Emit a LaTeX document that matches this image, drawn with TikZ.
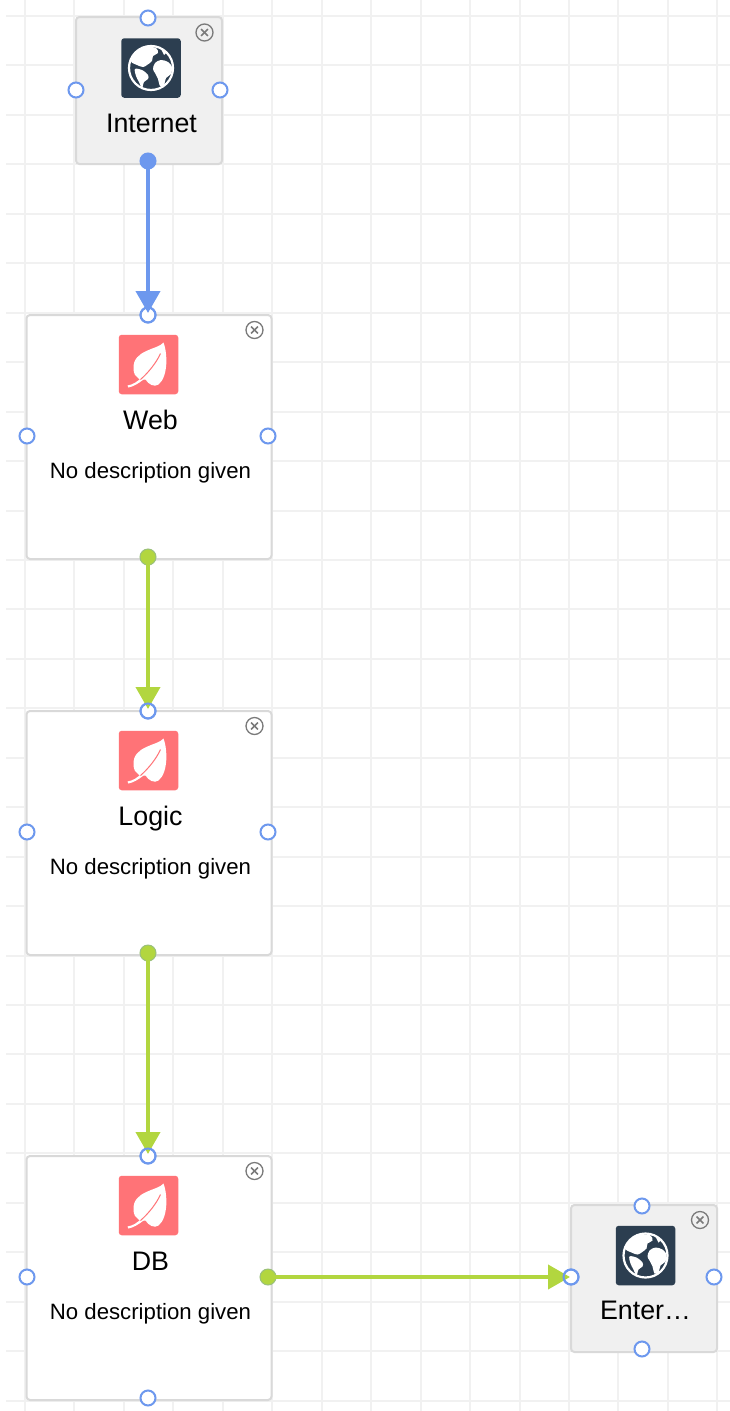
\documentclass[tikz,border=0pt]{standalone}
\usepackage{fontspec}
\setmainfont{Liberation Sans}
\usetikzlibrary{arrows.meta}
\definecolor{gridc}{HTML}{F1F1F1}
\definecolor{edgec}{HTML}{D9D9D9}
\definecolor{cardgray}{HTML}{F0F0F0}
\definecolor{portblue}{HTML}{6D98EE}
\definecolor{flowgreen}{HTML}{B2D63F}
\definecolor{navy}{HTML}{2C3E50}
\definecolor{coral}{HTML}{FF7377}
\definecolor{closeg}{HTML}{7A7A7A}
\tikzset{
  card/.style={draw=edgec,line width=2pt,rounded corners=3.5pt,inner sep=0pt,anchor=north west},
  port/.style={circle,draw=portblue,fill=white,line width=2pt,minimum size=15pt,inner sep=0pt},
  bluedot/.style={circle,draw=portblue,fill=portblue,line width=1pt,minimum size=16pt,inner sep=0pt},
  greendot/.style={circle,draw=portblue!35!flowgreen,fill=flowgreen,line width=1pt,minimum size=16pt,inner sep=0pt},
  flow/.style={line width=4pt,-{Triangle[length=22pt,width=24pt]}},
  ring/.style={draw=portblue,line width=2pt},
  closebtn/.style={circle,draw=closeg,line width=1.3pt,minimum size=17pt,inner sep=0pt},
  closex/.style={draw=closeg,line width=1.6pt},
  icon/.style={rounded corners=3pt,inner sep=0pt,minimum size=59.5pt},
  titletext/.style={anchor=base,inner sep=0pt,font=\fontsize{26.8}{30}\selectfont},
  desctext/.style={anchor=base,inner sep=0pt,font=\fontsize{22.2}{26}\selectfont}
}
\newcommand{\closeat}[3]{%
  \node[closebtn] (#1) at (#2,#3) {};
  \draw[closex] (#1.center) ++(-3.4,-3.4) -- ++(6.8,6.8);
  \draw[closex] (#1.center) ++(3.4,-3.4) -- ++(-6.8,6.8);
}
\newcommand{\globeat}[3]{%
  \node[icon,fill=navy] (#1) at (#2,#3) {};
  \begin{scope}[shift={(#1.center)}]
    \draw[white,line width=2.2pt] (0,0) circle[radius=22];
    \fill[white] plot[smooth cycle,tension=0.55] coordinates {(-20,-7) (-14,-17) (-4,-21) (5,-20) (7,-15) (2,-12) (1,-7) (-4,-3) (-8,-1) (-14,-3)};
    \fill[white] plot[smooth cycle,tension=0.55] coordinates {(-16,1) (-9,2) (-3,7) (-3,11) (-7,14) (-9,20) (-12,14) (-15,8)};
    \fill[white] plot[smooth cycle,tension=0.55] coordinates {(4,-5) (10,-8) (17,-6) (21,-1) (20,6) (15,10) (13,17) (9,18) (7,11) (4,5) (2,1)};
    \fill[white] (10,-19) -- (16,-16) -- (13,-13) -- cycle;
  \end{scope}
}
\newcommand{\leafat}[3]{%
  \node[icon,fill=coral] (#1) at (#2,#3) {};
  \begin{scope}[shift={(#1.center)}]
    \fill[white] (15,-22) .. controls (10,-15) and (-16,-15) .. (-15,4) .. controls (-15,9) and (-13,12) .. (-10,14) .. controls (-6,16) and (-4,15) .. (-3,15) .. controls (0,20) and (6,23) .. (10,20) .. controls (20,12) and (19,-12) .. (15,-22) -- cycle;
    \fill[white] (-21,21) .. controls (-15,20) and (-11,17) .. (-7,13) -- (-5,15) .. controls (-10,19) and (-15,22) .. (-20,23) -- cycle;
    \draw[coral,line width=1pt] (-8,15) .. controls (0,8) and (8,-2) .. (12,-11);
  \end{scope}
}
\begin{document}
\begin{tikzpicture}[x=1pt,y=-1pt]
\useasboundingbox[fill=white] (0,0) rectangle (730,1411);
% grid
\foreach \i in {0,...,14} \draw[gridc,line width=2pt] ({25+49.45*\i},0) -- ({25+49.45*\i},1411);
\foreach \i in {0,...,28} \draw[gridc,line width=2pt] (6,{16+49.45*\i}) -- (730,{16+49.45*\i});
% cards
\node[card,fill=cardgray,minimum width=146pt,minimum height=147pt] (internet) at (75,16) {};
\node[card,fill=white,minimum width=245pt,minimum height=244pt] (web) at (25.5,314) {};
\node[card,fill=white,minimum width=245pt,minimum height=244pt] (logic) at (25.5,710) {};
\node[card,fill=white,minimum width=245pt,minimum height=244pt] (db) at (25.5,1155) {};
\node[card,fill=cardgray,minimum width=146pt,minimum height=147pt] (enter) at (570,1204) {};
% icons
\globeat{iconinternet}{151}{68}
\leafat{iconweb}{148.5}{364.5}
\leafat{iconlogic}{148.5}{760.5}
\leafat{icondb}{148.5}{1205.5}
\globeat{iconenter}{645.5}{1255.5}
% close buttons
\closeat{closeinternet}{204.5}{32.5}
\closeat{closeweb}{254.5}{330}
\closeat{closelogic}{254.5}{726}
\closeat{closedb}{254.5}{1171}
\closeat{closeenter}{700}{1220}
% texts
\node[titletext] (tinternet) at (151.5,132) {Internet};
\node[titletext] (tweb) at (150.5,429) {Web};
\node[desctext] (dweb) at (150.5,478) {No description given};
\node[titletext] (tlogic) at (150.5,825) {Logic};
\node[desctext] (dlogic) at (150.5,874) {No description given};
\node[titletext] (tdb) at (150.5,1270.5) {DB};
\node[desctext] (ddb) at (150.5,1319.5) {No description given};
\node[titletext] (tenter) at (645.5,1319) {Enter…};
% ports
\node[port] (internettop) at (148,18) {};
\node[port] (internetleft) at (76,90) {};
\node[port] (internetright) at (220,90) {};
\node[bluedot] (internetbottom) at (148,161) {};
\node[port] (webtop) at (148,315) {};
\node[port] (webleft) at (27,436) {};
\node[port] (webright) at (268,436) {};
\node[greendot] (webbottom) at (148,557) {};
\node[port] (logictop) at (148,711) {};
\node[port] (logicleft) at (27,832) {};
\node[port] (logicright) at (268,832) {};
\node[greendot] (logicbottom) at (148,953) {};
\node[port] (dbtop) at (148,1156) {};
\node[port] (dbleft) at (27,1277) {};
\node[greendot] (dbright) at (268,1277) {};
\node[port] (dbbottom) at (148,1398) {};
\node[port] (entertop) at (642,1206) {};
\node[port] (enterleft) at (571,1277) {};
\node[port] (enterright) at (714,1277) {};
\node[port] (enterbottom) at (642,1349) {};
% connectors
\draw[flow,portblue,shorten >=2pt] (internetbottom.center) -- (webtop.center);
\draw[flow,flowgreen,shorten >=2pt] (webbottom.center) -- (logictop.center);
\draw[flow,flowgreen,shorten >=2pt] (logicbottom.center) -- (dbtop.center);
\draw[flow,flowgreen,shorten >=1pt] (dbright.center) -- (enterleft.center);
% port rims over the arrow tips
\draw[ring] (webtop.center) circle[radius=7.5];
\draw[ring] (logictop.center) circle[radius=7.5];
\draw[ring] (dbtop.center) circle[radius=7.5];
\draw[ring] (enterleft.center) circle[radius=7.5];
\end{tikzpicture}
\end{document}
